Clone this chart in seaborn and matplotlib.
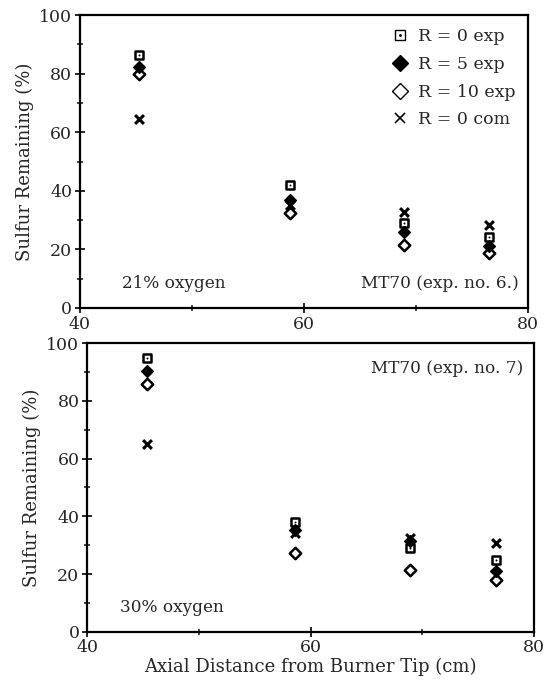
import numpy as np
import pandas as pd
import matplotlib
matplotlib.use("Agg")
import matplotlib.pyplot as plt
from matplotlib.lines import Line2D
from matplotlib.ticker import MultipleLocator
import seaborn as sns

# 轴向位置 (cm)
positions = [45.3, 58.7, 68.9, 76.5]
positions_b = [45.4, 58.6, 68.9, 76.6]

# 21% oxygen (exp. no. 6)
top_r0_exp = [86.3, 42.0, 29.0, 24.3]
top_r5_exp = [82.4, 37.0, 26.0, 21.0]
top_r10_exp = [80.0, 32.4, 21.5, 18.7]
top_r0_com = [64.7, 35.0, 32.9, 28.3]

# 30% oxygen (exp. no. 7)
bot_r0_exp = [94.7, 38.2, 29.0, 24.9]
bot_r5_exp = [90.4, 35.3, 31.3, 20.9]
bot_r10_exp = [86.0, 27.2, 21.5, 18.0]
bot_r0_com = [65.0, 34.2, 32.4, 30.7]

series_labels = ["R = 0 exp", "R = 5 exp", "R = 10 exp", "R = 0 com"]


def build_frame(xs, r0, r5, r10, com):
    rows = []
    for lab, vals in zip(series_labels, [r0, r5, r10, com]):
        for x, v in zip(xs, vals):
            rows.append({"x": x, "y": v, "series": lab})
    return pd.DataFrame(rows)


df_top = build_frame(positions, top_r0_exp, top_r5_exp, top_r10_exp, top_r0_com)
df_bot = build_frame(positions_b, bot_r0_exp, bot_r5_exp, bot_r10_exp, bot_r0_com)

sns.set_style("ticks")
plt.rcParams['font.family'] = ['DejaVu Serif']
plt.rcParams['axes.linewidth'] = 1.6

fig = plt.figure(figsize=(5.44, 6.89), dpi=100)
ax1 = fig.add_axes([0.147, 0.553, 0.824, 0.425])
ax2 = fig.add_axes([0.160, 0.083, 0.822, 0.419])


def draw_panel(ax, df):
    d = df[df.series == "R = 0 exp"]
    sns.scatterplot(data=d, x="x", y="y", ax=ax, marker="s", s=38,
                    facecolor="white", edgecolor="black", linewidth=1.8, zorder=3)
    sns.scatterplot(data=d, x="x", y="y", ax=ax, marker=".", s=8,
                    color="black", linewidth=0, zorder=4)
    d = df[df.series == "R = 5 exp"]
    sns.scatterplot(data=d, x="x", y="y", ax=ax, marker="D", s=36,
                    color="black", edgecolor="black", linewidth=1, zorder=3)
    d = df[df.series == "R = 10 exp"]
    sns.scatterplot(data=d, x="x", y="y", ax=ax, marker="D", s=34,
                    facecolor="white", edgecolor="black", linewidth=1.8, zorder=2)
    d = df[df.series == "R = 0 com"]
    sns.scatterplot(data=d, x="x", y="y", ax=ax, marker="x", s=40,
                    color="black", linewidth=2.2, zorder=3)

    ax.set_xlim(40, 80)
    ax.set_ylim(0, 100)
    ax.xaxis.set_major_locator(MultipleLocator(20))
    ax.xaxis.set_minor_locator(MultipleLocator(10))
    ax.yaxis.set_major_locator(MultipleLocator(20))
    ax.yaxis.set_minor_locator(MultipleLocator(10))
    ax.tick_params(which="major", direction="inout", length=7, width=1.4,
                   labelsize=12.5, pad=2)
    ax.tick_params(which="minor", direction="inout", length=4, width=1.2)
    ax.set_ylabel("Sulfur Remaining (%)", fontsize=13)
    ax.set_xlabel("")
    for sp in ax.spines.values():
        sp.set_visible(True)
        sp.set_color("black")


draw_panel(ax1, df_top)
draw_panel(ax2, df_bot)

ax1.text(0.094, 0.055, "21% oxygen", transform=ax1.transAxes, fontsize=12.2,
         ha="left", va="bottom")
ax1.text(0.978, 0.055, "MT70 (exp. no. 6.)", transform=ax1.transAxes, fontsize=12.2,
         ha="right", va="bottom")
ax2.text(0.975, 0.94, "MT70 (exp. no. 7)", transform=ax2.transAxes, fontsize=12.2,
         ha="right", va="top")
ax2.text(0.074, 0.055, "30% oxygen", transform=ax2.transAxes, fontsize=12.2,
         ha="left", va="bottom")
ax2.set_xlabel("Axial Distance from Burner Tip (cm)", fontsize=13, labelpad=1)

# 图例
h_sq = (Line2D([], [], ls="none", marker="s", ms=7, mfc="white", mec="black", mew=1),
        Line2D([], [], ls="none", marker=".", ms=2, color="black"))
h_fd = Line2D([], [], ls="none", marker="D", ms=8, color="black")
h_od = Line2D([], [], ls="none", marker="D", ms=8, mfc="white", mec="black", mew=1)
h_x = Line2D([], [], ls="none", marker="x", ms=7, color="black", mew=1.2)
ax1.legend([h_sq, h_fd, h_od, h_x], series_labels, loc="upper right",
           frameon=False, fontsize=12.5, handletextpad=0.4, labelspacing=0.62,
           borderaxespad=0.35, handlelength=1.2)

plt.savefig("out.png", dpi=100)
